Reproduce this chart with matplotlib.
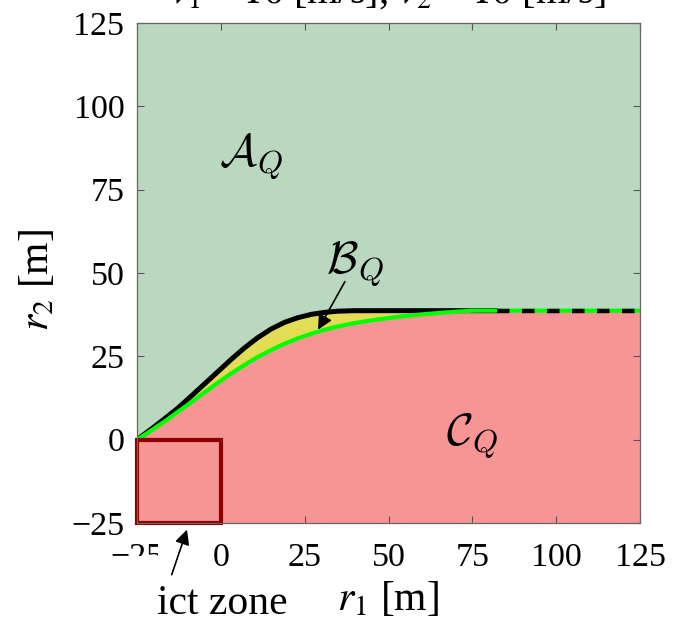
import numpy as np
import matplotlib
matplotlib.use("Agg")
import matplotlib.pyplot as plt
from matplotlib.patches import Rectangle

plt.rcParams['font.family'] = ['Liberation Serif', 'DejaVu Serif']
plt.rcParams['lines.scale_dashes'] = False

# Boundary curves of the regions (r1 in m, r2 in m)
r1 = [-25, -21, -17, -13, -9, -5, -1, 3, 7, 11, 15, 19, 23, 27, 31, 35,
      40, 45, 50, 55, 60, 65, 70, 75, 82.5, 125]
r2_upper = [0, 3.0, 6.1, 9.3, 12.9, 16.6, 20.3, 24.0, 27.5, 30.6, 33.2, 35.2,
            36.6, 37.6, 38.2, 38.55, 38.7, 38.7, 38.7, 38.7, 38.7, 38.7, 38.7,
            38.7, 38.7, 38.7]
r2_lower = [0, 2.6, 5.3, 8.2, 11.1, 14.1, 17.0, 19.8, 22.4, 24.8, 26.9, 28.8,
            30.4, 31.8, 33.0, 34.0, 35.0, 35.8, 36.5, 37.1, 37.6, 38.0, 38.4,
            38.7, 38.7, 38.7]
dash_start = 82.5

# Conflict zone square
zone_r1 = [-25, 0]
zone_r2 = [-25, 0]

xticks = [-25, 0, 25, 50, 75, 100, 125]
yticks = [-25, 0, 25, 50, 75, 100, 125]
v1, v2 = 10, 10

C_A = '#BAD8BF'
C_B = '#E3DC55'
C_C = '#F79595'
C_LINE = '#00FF00'
C_ZONE = '#8B0000'

W, H = 679, 628
fig = plt.figure(figsize=(W / 100, H / 100), dpi=100)
ax = fig.add_axes([137 / W, 1 - 523 / H, 503 / W, 500 / H])

def fx(px):
    return px / W

def fy(py):
    return 1 - py / H

ax.set_facecolor(C_A)
ax.set_xlim(-25, 125)
ax.set_ylim(-25, 125)

r1a = np.array(r1)
up = np.array(r2_upper)
lo = np.array(r2_lower)

ax.fill_between(r1a, -25, lo, color=C_C, lw=0, zorder=1)
ax.fill_between(r1a, lo, up, color=C_B, lw=0, zorder=1)

solid = r1a <= dash_start
ax.plot(r1a[solid], up[solid], color='k', lw=3.6, zorder=3,
        solid_capstyle='butt', solid_joinstyle='round')
ax.plot(r1a, lo, color=C_LINE, lw=3.0, zorder=4,
        solid_capstyle='butt', solid_joinstyle='round')
dashed = r1a >= dash_start
ax.plot(r1a[dashed], up[dashed], color='k', lw=3.2, zorder=5,
        linestyle=(0, (9, 9)), dash_capstyle='butt')

ax.add_patch(Rectangle((zone_r1[0], zone_r2[0]), zone_r1[1] - zone_r1[0],
                       zone_r2[1] - zone_r2[0], facecolor=C_C, edgecolor=C_ZONE,
                       lw=3.0, zorder=6, clip_on=False))

# Region labels
ax.text(9, 85, r'$\mathcal{A}_Q$', fontsize=33, math_fontfamily='cm',
        ha='center', va='center', zorder=7)
ax.text(40, 52.5, r'$\mathcal{B}_Q$', fontsize=33, math_fontfamily='cm',
        ha='center', va='center', zorder=7)
ax.text(75, 1, r'$\mathcal{C}_Q$', fontsize=33, math_fontfamily='cm',
        ha='center', va='center', zorder=7)
ax.annotate('', xy=(29, 33), xytext=(37, 47.4),
            arrowprops=dict(arrowstyle='-|>', lw=1.2, color='k',
                            mutation_scale=22, shrinkA=0, shrinkB=0),
            zorder=7)

# Ticks and frame
ax.set_xticks(xticks)
ax.set_yticks(yticks)
ax.set_xticklabels([f'{t}' if t >= 0 else f'\u2212{-t}' for t in xticks])
ax.set_yticklabels([f'{t}' if t >= 0 else f'\u2212{-t}' for t in yticks])
ax.tick_params(direction='in', length=5, width=0.8, color='#555555',
               labelsize=24.5, top=True, right=True)
ax.tick_params(axis='x', pad=14)
ax.tick_params(axis='y', pad=9)
for s in ax.spines.values():
    s.set_color('#666666')
    s.set_linewidth(0.9)
    s.set_zorder(8)

# Blank patch behind the zone caption
for (x0, y0, x1, y1) in [(158, 535, 208, 628), (95, 556, 158, 628)]:
    ax.add_patch(Rectangle((fx(x0), fy(y1)), fx(x1) - fx(x0), fy(y0) - fy(y1),
                           transform=fig.transFigure, facecolor='white',
                           edgecolor='none', clip_on=False, zorder=9))

ax.annotate('', xy=(-10.1, -27.0), xytext=(-14.65, -40.5),
            arrowprops=dict(arrowstyle='-|>', lw=1.2, color='k',
                            mutation_scale=22, shrinkA=0, shrinkB=0),
            annotation_clip=False, zorder=10)
fig.text(fx(157), fy(614), 'ict zone', fontsize=30, ha='left', va='baseline', zorder=10)

# Axis labels and title
fig.text(fx(388), fy(600), r'$r_1$ [m]', fontsize=30, math_fontfamily='stix',
         ha='center', va='center')
fig.text(fx(38), fy(280), r'$r_2$ [m]', fontsize=30, math_fontfamily='stix',
         ha='center', va='center', rotation=90)
fig.text(fx(388), fy(3), rf'$v_1 = {v1}$ [m/s], $v_2 = {v2}$ [m/s]', fontsize=29,
         math_fontfamily='stix', ha='center', va='baseline')

fig.savefig('out.png', dpi=100)
